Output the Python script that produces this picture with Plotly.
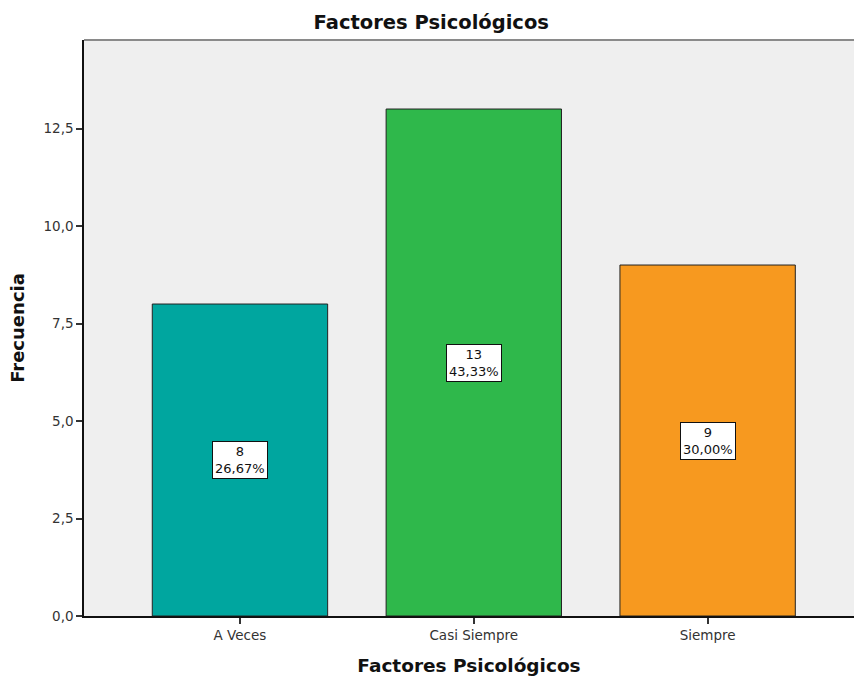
import plotly.graph_objects as go

# Frequency table
categories = ["A Veces", "Casi Siempre", "Siempre"]
counts = [8, 13, 9]
bar_colors = ["#00a69f", "#2fb84b", "#f7991f"]
y_tick_values = [0, 2.5, 5, 7.5, 10, 12.5]

total = sum(counts)
percent_labels = [f"{c / total * 100:.2f}%".replace(".", ",") for c in counts]

FONT = "DejaVu Sans"

fig = go.Figure()
fig.add_trace(go.Bar(
    x=categories,
    y=counts,
    width=0.75,
    marker=dict(color=bar_colors, line=dict(color="#222222", width=1)),
    hoverinfo="skip",
))

# Count / percentage boxes at half bar height
for cat, c, p in zip(categories, counts, percent_labels):
    fig.add_annotation(
        x=cat, y=c / 2, xref="x", yref="y",
        text=f"{c}<br>{p}",
        showarrow=False,
        font=dict(family=FONT, size=13, color="#111111"),
        bgcolor="white", bordercolor="#111111", borderwidth=1, borderpad=2,
    )

# Grey frame line along the top of the plot area
fig.add_shape(type="line", xref="paper", yref="paper", x0=0, x1=1, y0=1, y1=1,
              line=dict(color="#8a8a8a", width=2))

fig.update_layout(
    width=854, height=681,
    margin=dict(l=84, r=0, t=40, b=65),
    paper_bgcolor="white",
    plot_bgcolor="#efefef",
    separators=",.",
    showlegend=False,
    title=dict(text="<b>Factores Psicológicos</b>", x=0.505, xanchor="center",
               y=1 - 22 / 681, yanchor="middle",
               font=dict(family=FONT, size=19.5, color="#111111")),
    xaxis=dict(
        range=[-0.667, 2.626],
        showgrid=False, zeroline=False,
        showline=True, linecolor="#111111", linewidth=1.5,
        ticks="outside", ticklen=6, tickcolor="#333333", tickwidth=1.5,
        tickfont=dict(family=FONT, size=13.5, color="#333333"),
        title=dict(text="<b>Factores Psicológicos</b>", standoff=17,
                   font=dict(family=FONT, size=18.5, color="#111111")),
    ),
    yaxis=dict(
        range=[0, 14.77],
        tickvals=y_tick_values, tickformat=".1f",
        showgrid=False, zeroline=False,
        showline=True, linecolor="#111111", linewidth=1.5,
        ticks="outside", ticklen=6, tickcolor="#333333", tickwidth=1.5,
        tickfont=dict(family=FONT, size=13.5, color="#333333"),
        title=dict(text="<b>Frecuencia</b>", standoff=14,
                   font=dict(family=FONT, size=18, color="#111111")),
    ),
)

fig.write_html("out.html")
